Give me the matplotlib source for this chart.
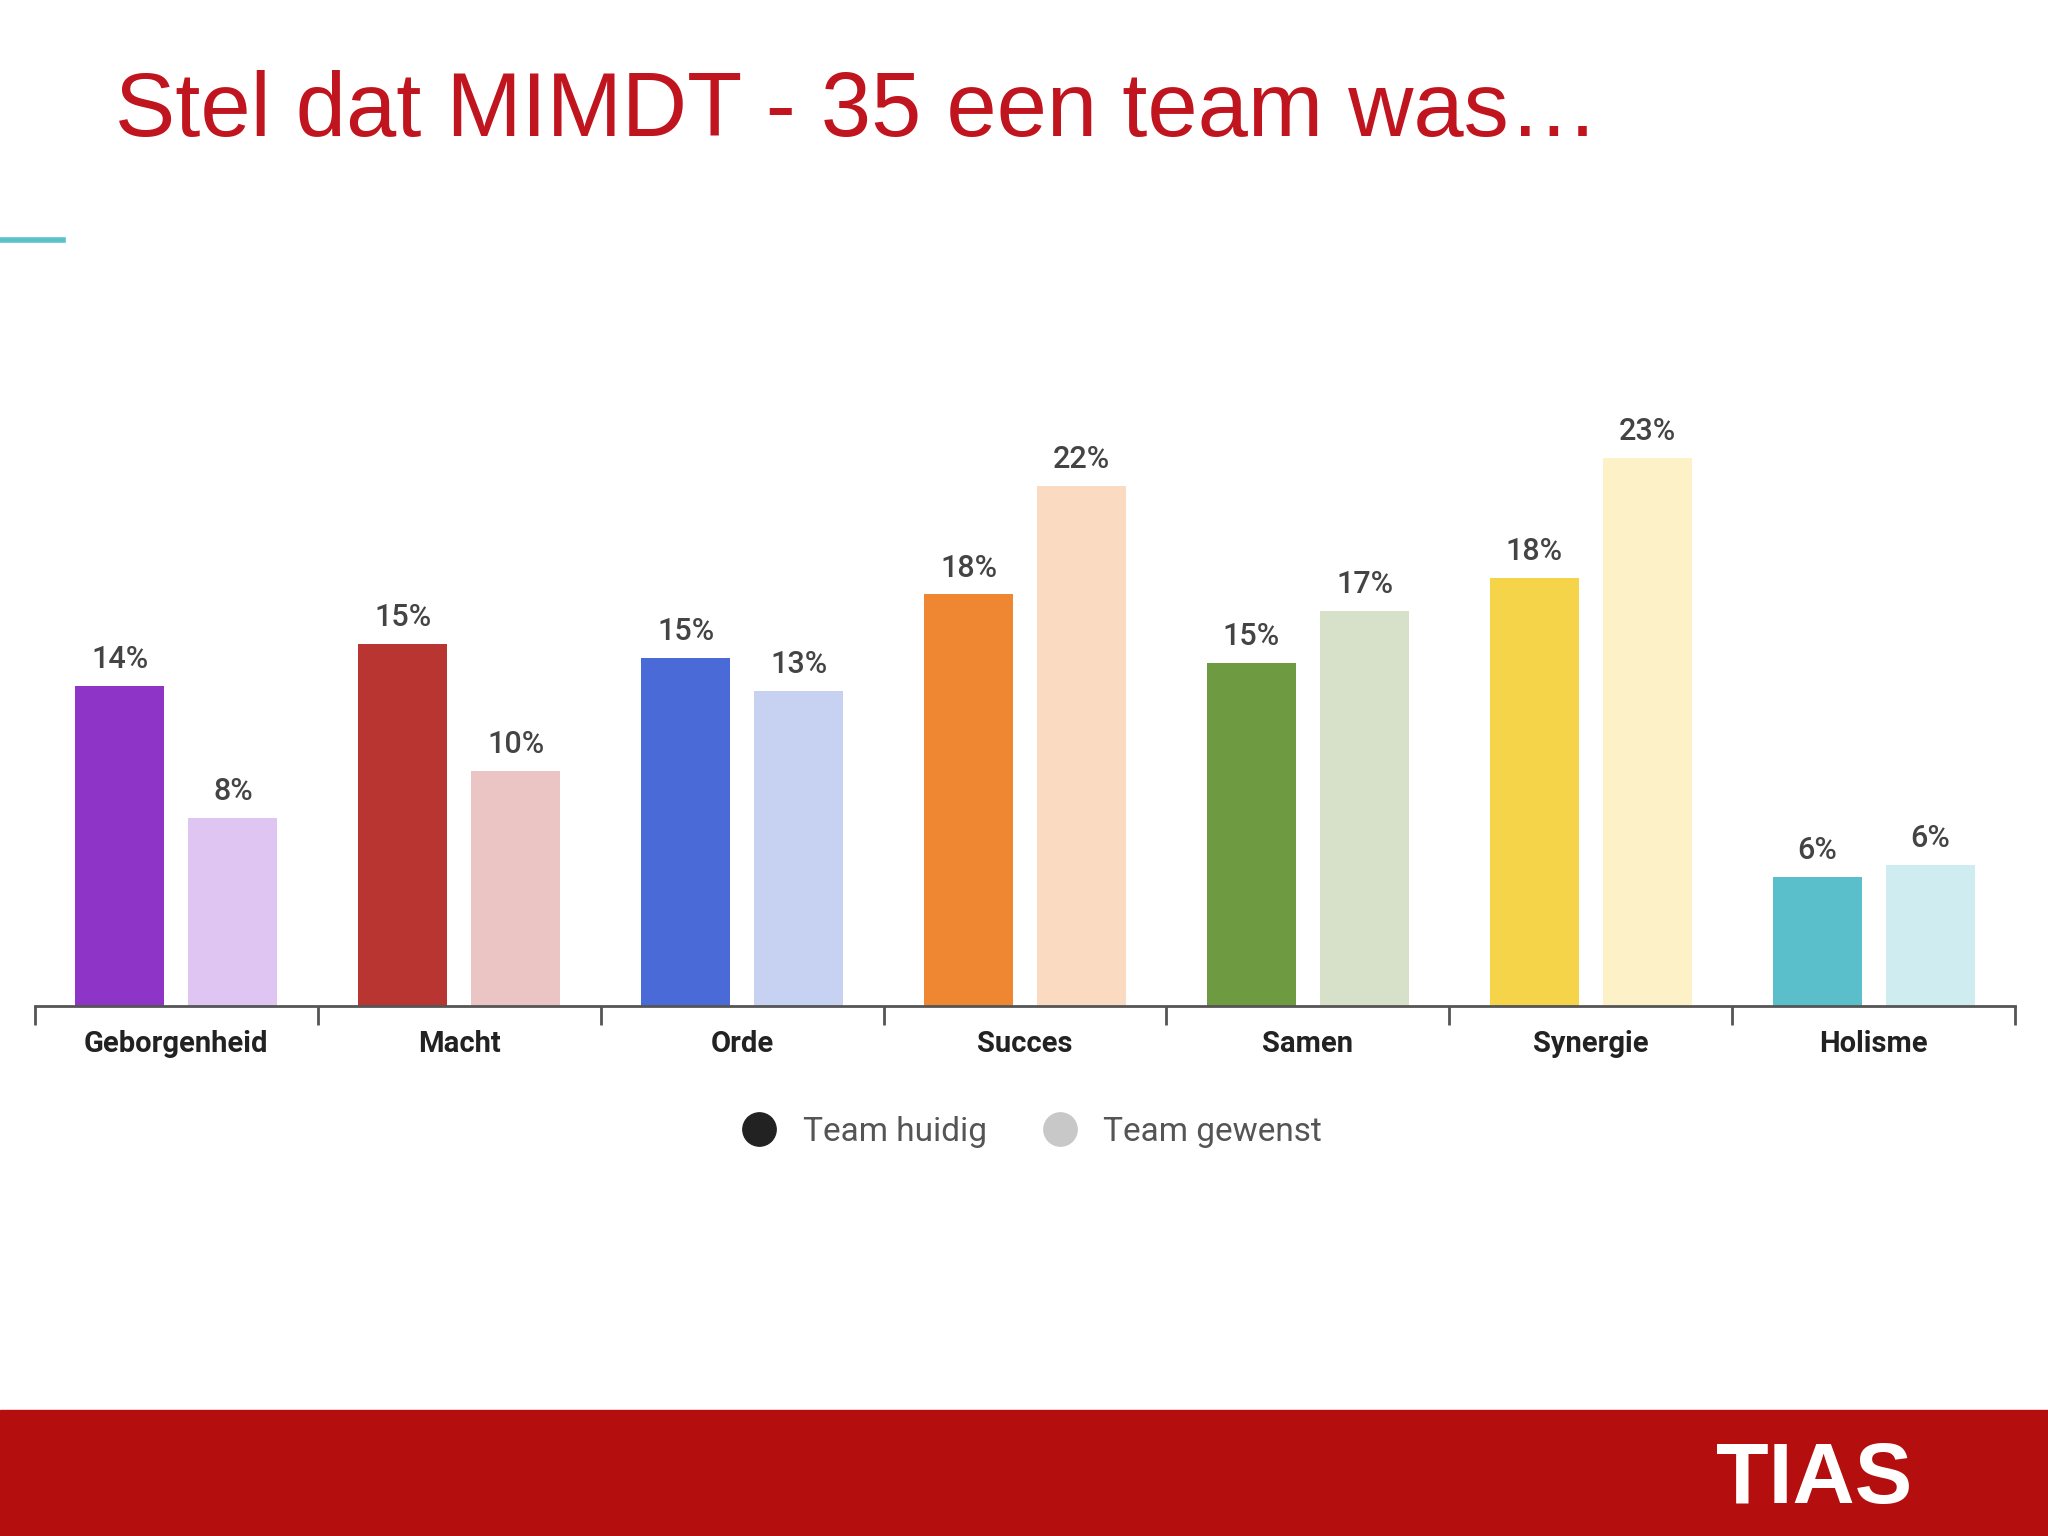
import matplotlib
matplotlib.use("Agg")
import matplotlib.pyplot as plt
from matplotlib.lines import Line2D

plt.rcParams['font.family'] = ['Roboto', 'DejaVu Sans']

categories = ["Geborgenheid", "Macht", "Orde", "Succes", "Samen", "Synergie", "Holisme"]
huidig = [13.6, 15.4, 14.8, 17.5, 14.6, 18.2, 5.5]
gewenst = [8.0, 10.0, 13.4, 22.1, 16.8, 23.3, 6.0]
huidig_labels = ["14%", "15%", "15%", "18%", "15%", "18%", "6%"]
gewenst_labels = ["8%", "10%", "13%", "22%", "17%", "23%", "6%"]
dark = ["#8E35C8", "#B93532", "#4A6AD8", "#EE8632", "#6E9A42", "#F6D44A", "#5ABFCB"]
light = ["#DFC5F2", "#EBC5C3", "#C7D1F2", "#FADBC2", "#D7E0C9", "#FDF1C8", "#CFEDF0"]

fig = plt.figure(figsize=(20.48, 15.36), dpi=100)
fig.patch.set_facecolor("white")
fig.text(0.056, 0.927, "Stel dat MIMDT - 35 een team was…", color="#C0141E",
         fontsize=65, va="center", ha="left", family="Liberation Sans")
fig.add_artist(Line2D([0, 0.031], [0.8435, 0.8435], color="#5BC0C8", lw=4))

ax = fig.add_axes([0.017, 0.345, 0.967, 0.383])
x = range(len(categories))
w = 0.315
xs1 = [i - 0.2 for i in x]
xs2 = [i + 0.2 for i in x]
ax.bar(xs1, huidig, width=w, color=dark)
ax.bar(xs2, gewenst, width=w, color=light)
for xi, v, l in zip(xs1, huidig, huidig_labels):
    ax.text(xi, v + 0.5, l, ha="center", va="bottom", fontsize=22, color="#444444", fontweight="medium")
for xi, v, l in zip(xs2, gewenst, gewenst_labels):
    ax.text(xi, v + 0.5, l, ha="center", va="bottom", fontsize=22, color="#444444", fontweight="medium")
ax.set_xlim(-0.5, 6.5)
ax.set_ylim(0, 25)
for s in ["top", "right", "left"]:
    ax.spines[s].set_visible(False)
ax.spines["bottom"].set_color("#555555")
ax.spines["bottom"].set_linewidth(2)
ax.set_yticks([])
ax.set_xticks([i - 0.5 for i in range(8)], minor=False)
ax.set_xticklabels([])
ax.tick_params(axis="x", which="major", length=14, width=2, color="#555555")
ax.set_xticks(list(x), minor=True)
ax.set_xticklabels(categories, minor=True, fontsize=21, fontweight="bold", color="#222222")
ax.tick_params(axis="x", which="minor", length=0, pad=17)

handles = [Line2D([], [], marker="o", ls="", color="#222222", markersize=24),
           Line2D([], [], marker="o", ls="", color="#C8C8C8", markersize=24)]
fig.legend(handles, ["Team huidig", "Team gewenst"], loc="center", bbox_to_anchor=(0.5, 0.263),
           ncol=2, frameon=False, fontsize=24, labelcolor="#555555", handletextpad=0.3,
           columnspacing=1.2)

fig.add_artist(plt.Rectangle((0, 0), 1, 0.082, transform=fig.transFigure, color="#B50E0E"))
fig.text(0.886, 0.036, "TIAS", color="white", fontsize=62, fontweight="bold",
         ha="center", va="center", family="Liberation Sans")

fig.savefig("out.png", dpi=100)
